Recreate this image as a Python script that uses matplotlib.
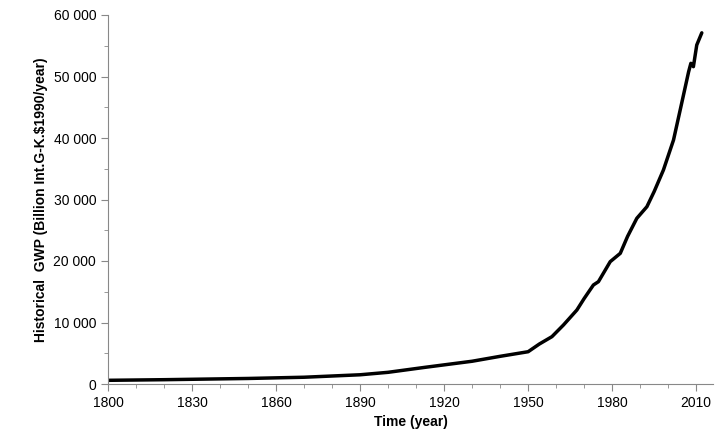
import matplotlib
matplotlib.use("Agg")
import matplotlib.pyplot as plt
from matplotlib.ticker import MultipleLocator, FuncFormatter

years = [1800, 1820, 1850, 1870, 1890, 1900, 1913, 1930, 1940, 1950, 1954, 1958.5, 1962.6, 1967.4,
         1970, 1973.3, 1975.1, 1979.3, 1982.9, 1985.5, 1988.8, 1992.4, 1995, 1998.3, 2001.9, 2004.5, 2007.3, 2008.1, 2009.0, 2010.2, 2012]
gwp = [600, 700, 900, 1100, 1500, 1900, 2700, 3700, 4500, 5250, 6500, 7700, 9590, 12030,
       13900, 16100, 16640, 19890, 21250, 24000, 26940, 28830, 31300, 34800, 39670, 45000, 50780, 52140, 51600, 55120, 57100]

plt.rcParams['font.family'] = ['Liberation Sans', 'DejaVu Sans']
fig = plt.figure(figsize=(7.18, 4.45), dpi=100)
ax = fig.add_axes([108/718, 1-384/445, (718-108-5)/718, (384-15)/445])
ax.plot(years, gwp, color='black', lw=2.5, solid_capstyle='round', solid_joinstyle='round')
ax.set_xlim(1800, 2016)
ax.set_ylim(0, 60000)
ax.xaxis.set_major_locator(MultipleLocator(30))
ax.xaxis.set_minor_locator(MultipleLocator(10))
ax.yaxis.set_major_locator(MultipleLocator(10000))
ax.yaxis.set_minor_locator(MultipleLocator(5000))
ax.yaxis.set_major_formatter(FuncFormatter(lambda v, p: f"{int(v):,}".replace(",", " ")))
for s in ['top', 'right']:
    ax.spines[s].set_visible(False)
for s in ['left', 'bottom']:
    ax.spines[s].set_color('#888888')
ax.tick_params(which='both', direction='out', color='#888888', labelsize=10)
ax.tick_params(which='major', length=5)
ax.tick_params(which='minor', length=3)
ax.set_xlabel('Time (year)', fontweight='bold', fontsize=10)
ax.set_ylabel('Historical  GWP (Billion Int.G-K.$1990/year)', fontweight='bold', fontsize=10)
fig.savefig('out.png', dpi=100)
